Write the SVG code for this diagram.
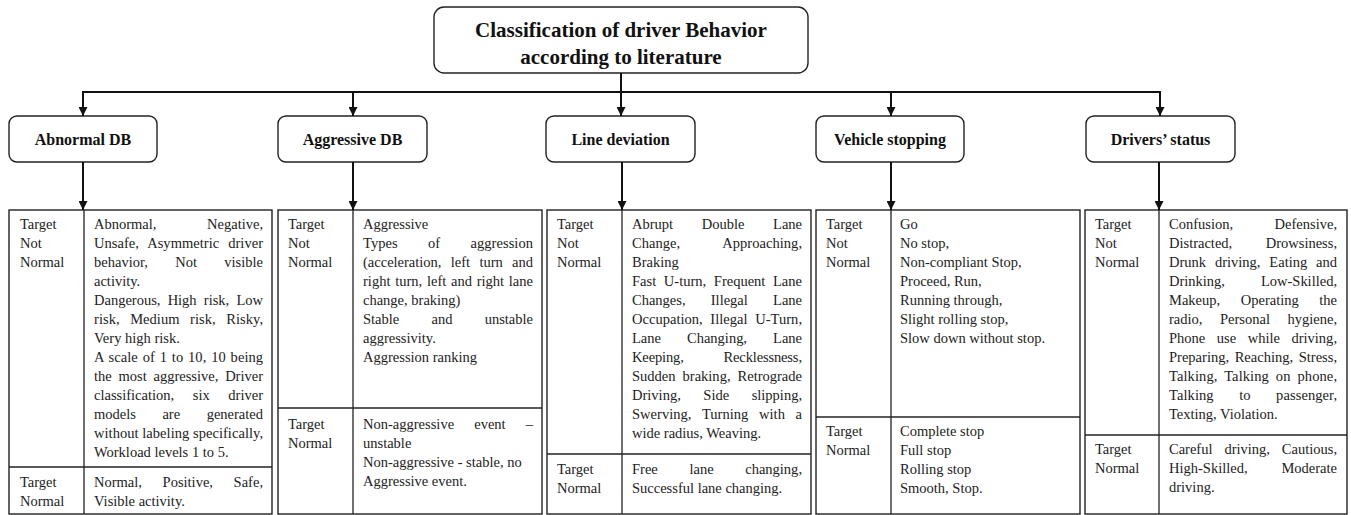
<svg xmlns="http://www.w3.org/2000/svg" width="1351" height="515" viewBox="0 0 1351 515">
<defs>
<marker id="ah" markerUnits="userSpaceOnUse" markerWidth="9" markerHeight="9" refX="9" refY="4.5" orient="auto">
<path d="M0,0 L9,4.5 L0,9 z" fill="#111"/>
</marker>
<style>
.box{fill:#fff;stroke:#222;stroke-width:1.4}
.title{font-family:"Liberation Serif","Times New Roman",serif;font-weight:bold;font-size:21px;fill:#111;text-anchor:middle}
.hdr{font-family:"Liberation Serif","Times New Roman",serif;font-weight:bold;font-size:16px;fill:#111;text-anchor:middle}
.conn{stroke:#111;stroke-width:2;fill:none}
.arr{stroke:#111;stroke-width:2;fill:none;marker-end:url(#ah)}
.cell{fill:#fff;stroke:#222;stroke-width:1.4}
.ln{stroke:#222;stroke-width:1.3}
.t{font-family:"Liberation Serif","Times New Roman",serif;font-size:14.5px;fill:#222}
</style>
</defs>
<rect width="1351" height="515" fill="#fff"/>

<g id="title">
<rect class="box" x="434" y="7" width="374" height="66" rx="10"/>
<text class="title" x="621" y="37">Classification of driver Behavior</text>
<text class="title" x="621" y="64">according to literature</text>
</g>

<g id="hdr-abnormal"><rect class="box" x="9" y="116" width="148" height="46" rx="8"/><text class="hdr" x="83" y="145">Abnormal DB</text></g>
<g id="hdr-aggressive"><rect class="box" x="278" y="116" width="149" height="46" rx="8"/><text class="hdr" x="352.5" y="145">Aggressive DB</text></g>
<g id="hdr-line"><rect class="box" x="546" y="116" width="149" height="46" rx="8"/><text class="hdr" x="620.5" y="145">Line deviation</text></g>
<g id="hdr-vehicle"><rect class="box" x="816" y="116" width="148" height="46" rx="8"/><text class="hdr" x="890" y="145">Vehicle stopping</text></g>
<g id="hdr-drivers"><rect class="box" x="1086" y="116" width="149" height="46" rx="8"/><text class="hdr" x="1160.5" y="145">Drivers’ status</text></g>

<g id="tbl-abnormal">
<rect class="cell" x="9" y="210" width="263" height="304"/>
<line class="ln" x1="84" y1="210" x2="84" y2="514"/>
<line class="ln" x1="9" y1="467" x2="272" y2="467"/>
<text class="t" x="20" y="229">Target</text>
<text class="t" x="20" y="248">Not</text>
<text class="t" x="20" y="267">Normal</text>
<text class="t" x="94" y="229" textLength="169" lengthAdjust="spacing" style="word-spacing:47px">Abnormal, Negative,</text>
<text class="t" x="94" y="248" textLength="169" lengthAdjust="spacing" style="word-spacing:5.4px">Unsafe, Asymmetric driver</text>
<text class="t" x="94" y="267" textLength="169" lengthAdjust="spacing" style="word-spacing:23.5px">behavior, Not visible</text>
<text class="t" x="94" y="286">activity.</text>
<text class="t" x="94" y="305" textLength="169" lengthAdjust="spacing" style="word-spacing:3.6px">Dangerous, High risk, Low</text>
<text class="t" x="94" y="324" textLength="169" lengthAdjust="spacing" style="word-spacing:6.9px">risk, Medium risk, Risky,</text>
<text class="t" x="94" y="343">Very high risk.</text>
<text class="t" x="94" y="362" textLength="169" lengthAdjust="spacing" style="word-spacing:1.2px">A scale of 1 to 10, 10 being</text>
<text class="t" x="94" y="381" textLength="169" lengthAdjust="spacing" style="word-spacing:3.2px">the most aggressive, Driver</text>
<text class="t" x="94" y="400" textLength="169" lengthAdjust="spacing" style="word-spacing:15px">classification, six driver</text>
<text class="t" x="94" y="419" textLength="169" lengthAdjust="spacing" style="word-spacing:22.9px">models are generated</text>
<text class="t" x="94" y="438" textLength="169" lengthAdjust="spacing">without labeling specifically,</text>
<text class="t" x="94" y="457">Workload levels 1 to 5.</text>
<text class="t" x="20" y="487">Target</text>
<text class="t" x="20" y="506">Normal</text>
<text class="t" x="94" y="487" textLength="169" lengthAdjust="spacing" style="word-spacing:17px">Normal, Positive, Safe,</text>
<text class="t" x="94" y="506">Visible activity.</text>
</g>

<g id="tbl-aggressive">
<rect class="cell" x="278" y="210" width="264" height="304"/>
<line class="ln" x1="353" y1="210" x2="353" y2="514"/>
<line class="ln" x1="278" y1="408" x2="542" y2="408"/>
<text class="t" x="288" y="229">Target</text>
<text class="t" x="288" y="248">Not</text>
<text class="t" x="288" y="267">Normal</text>
<text class="t" x="363" y="229">Aggressive</text>
<text class="t" x="363" y="248" textLength="170" lengthAdjust="spacing" style="word-spacing:26.6px">Types of aggression</text>
<text class="t" x="363" y="267" textLength="170" lengthAdjust="spacing" style="word-spacing:5.7px">(acceleration, left turn and</text>
<text class="t" x="363" y="286" textLength="170" lengthAdjust="spacing" style="word-spacing:1.1px">right turn, left and right lane</text>
<text class="t" x="363" y="305">change, braking)</text>
<text class="t" x="363" y="324" textLength="170" lengthAdjust="spacing" style="word-spacing:28.6px">Stable and unstable</text>
<text class="t" x="363" y="343">aggressivity.</text>
<text class="t" x="363" y="362">Aggression ranking</text>
<text class="t" x="288" y="428.5">Target</text>
<text class="t" x="288" y="447.5">Normal</text>
<text class="t" x="363" y="428.5" textLength="170" lengthAdjust="spacing" style="word-spacing:16.5px">Non-aggressive event –</text>
<text class="t" x="363" y="447.5">unstable</text>
<text class="t" x="363" y="466.5">Non-aggressive - stable, no</text>
<text class="t" x="363" y="485.5">Aggressive event.</text>
</g>

<g id="tbl-line">
<rect class="cell" x="547" y="210" width="264" height="304"/>
<line class="ln" x1="622" y1="210" x2="622" y2="514"/>
<line class="ln" x1="547" y1="454" x2="811" y2="454"/>
<text class="t" x="557" y="229">Target</text>
<text class="t" x="557" y="248">Not</text>
<text class="t" x="557" y="267">Normal</text>
<text class="t" x="632" y="229" textLength="170" lengthAdjust="spacing" style="word-spacing:25px">Abrupt Double Lane</text>
<text class="t" x="632" y="248" textLength="170" lengthAdjust="spacing" style="word-spacing:39px">Change, Approaching,</text>
<text class="t" x="632" y="267">Braking</text>
<text class="t" x="632" y="286" textLength="170" lengthAdjust="spacing" style="word-spacing:4px">Fast U-turn, Frequent Lane</text>
<text class="t" x="632" y="305" textLength="170" lengthAdjust="spacing" style="word-spacing:21.6px">Changes, Illegal Lane</text>
<text class="t" x="632" y="324" textLength="170" lengthAdjust="spacing" style="word-spacing:4px">Occupation, Illegal U-Turn,</text>
<text class="t" x="632" y="343" textLength="170" lengthAdjust="spacing" style="word-spacing:22.4px">Lane Changing, Lane</text>
<text class="t" x="632" y="362" textLength="170" lengthAdjust="spacing" style="word-spacing:36.4px">Keeping, Recklessness,</text>
<text class="t" x="632" y="381" textLength="170" lengthAdjust="spacing" style="word-spacing:3.4px">Sudden braking, Retrograde</text>
<text class="t" x="632" y="400" textLength="170" lengthAdjust="spacing" style="word-spacing:18.9px">Driving, Side slipping,</text>
<text class="t" x="632" y="419" textLength="170" lengthAdjust="spacing" style="word-spacing:7px">Swerving, Turning with a</text>
<text class="t" x="632" y="438">wide radius, Weaving.</text>
<text class="t" x="557" y="474">Target</text>
<text class="t" x="557" y="493">Normal</text>
<text class="t" x="632" y="474" textLength="170" lengthAdjust="spacing" style="word-spacing:28px">Free lane changing,</text>
<text class="t" x="632" y="493">Successful lane changing.</text>
</g>

<g id="tbl-vehicle">
<rect class="cell" x="816" y="210" width="264" height="304"/>
<line class="ln" x1="891" y1="210" x2="891" y2="514"/>
<line class="ln" x1="816" y1="417" x2="1080" y2="417"/>
<text class="t" x="826" y="229">Target</text>
<text class="t" x="826" y="248">Not</text>
<text class="t" x="826" y="267">Normal</text>
<text class="t" x="900" y="229">Go</text>
<text class="t" x="900" y="248">No stop,</text>
<text class="t" x="900" y="267">Non-compliant Stop,</text>
<text class="t" x="900" y="286">Proceed, Run,</text>
<text class="t" x="900" y="305">Running through,</text>
<text class="t" x="900" y="324">Slight rolling stop,</text>
<text class="t" x="900" y="343">Slow down without stop.</text>
<text class="t" x="826" y="436">Target</text>
<text class="t" x="826" y="455">Normal</text>
<text class="t" x="900" y="436">Complete stop</text>
<text class="t" x="900" y="455">Full stop</text>
<text class="t" x="900" y="474">Rolling stop</text>
<text class="t" x="900" y="493">Smooth, Stop.</text>
</g>

<g id="tbl-drivers">
<rect class="cell" x="1085" y="210" width="262" height="304"/>
<line class="ln" x1="1159" y1="210" x2="1159" y2="514"/>
<line class="ln" x1="1085" y1="435" x2="1347" y2="435"/>
<text class="t" x="1095" y="229">Target</text>
<text class="t" x="1095" y="248">Not</text>
<text class="t" x="1095" y="267">Normal</text>
<text class="t" x="1169" y="229" textLength="168" lengthAdjust="spacing" style="word-spacing:37.9px">Confusion, Defensive,</text>
<text class="t" x="1169" y="248" textLength="168" lengthAdjust="spacing" style="word-spacing:29.9px">Distracted, Drowsiness,</text>
<text class="t" x="1169" y="267" textLength="168" lengthAdjust="spacing" style="word-spacing:5.3px">Drunk driving, Eating and</text>
<text class="t" x="1169" y="286" textLength="168" lengthAdjust="spacing" style="word-spacing:32.3px">Drinking, Low-Skilled,</text>
<text class="t" x="1169" y="305" textLength="168" lengthAdjust="spacing" style="word-spacing:17px">Makeup, Operating the</text>
<text class="t" x="1169" y="324" textLength="168" lengthAdjust="spacing" style="word-spacing:13.9px">radio, Personal hygiene,</text>
<text class="t" x="1169" y="343" textLength="168" lengthAdjust="spacing" style="word-spacing:7.9px">Phone use while driving,</text>
<text class="t" x="1169" y="362" textLength="168" lengthAdjust="spacing" style="word-spacing:2px">Preparing, Reaching, Stress,</text>
<text class="t" x="1169" y="381" textLength="168" lengthAdjust="spacing" style="word-spacing:3.2px">Talking, Talking on phone,</text>
<text class="t" x="1169" y="400" textLength="168" lengthAdjust="spacing" style="word-spacing:21.8px">Talking to passenger,</text>
<text class="t" x="1169" y="419">Texting, Violation.</text>
<text class="t" x="1095" y="454">Target</text>
<text class="t" x="1095" y="473">Normal</text>
<text class="t" x="1169" y="454" textLength="168" lengthAdjust="spacing" style="word-spacing:8.3px">Careful driving, Cautious,</text>
<text class="t" x="1169" y="473" textLength="168" lengthAdjust="spacing" style="word-spacing:30.3px">High-Skilled, Moderate</text>
<text class="t" x="1169" y="492">driving.</text>
</g>

<g id="connectors">
<path class="conn" d="M621,73 V92"/>
<path class="conn" d="M82,92 H1161"/>
<path class="arr" d="M83,92 V116"/>
<path class="arr" d="M353,92 V116"/>
<path class="arr" d="M621,92 V116"/>
<path class="arr" d="M891,92 V116"/>
<path class="arr" d="M1160,92 V116"/>
<path class="arr" d="M83,162 V210"/>
<path class="arr" d="M353,162 V210"/>
<path class="arr" d="M622,162 V210"/>
<path class="arr" d="M891,162 V210"/>
<path class="arr" d="M1159,162 V210"/>
</g>
</svg>
